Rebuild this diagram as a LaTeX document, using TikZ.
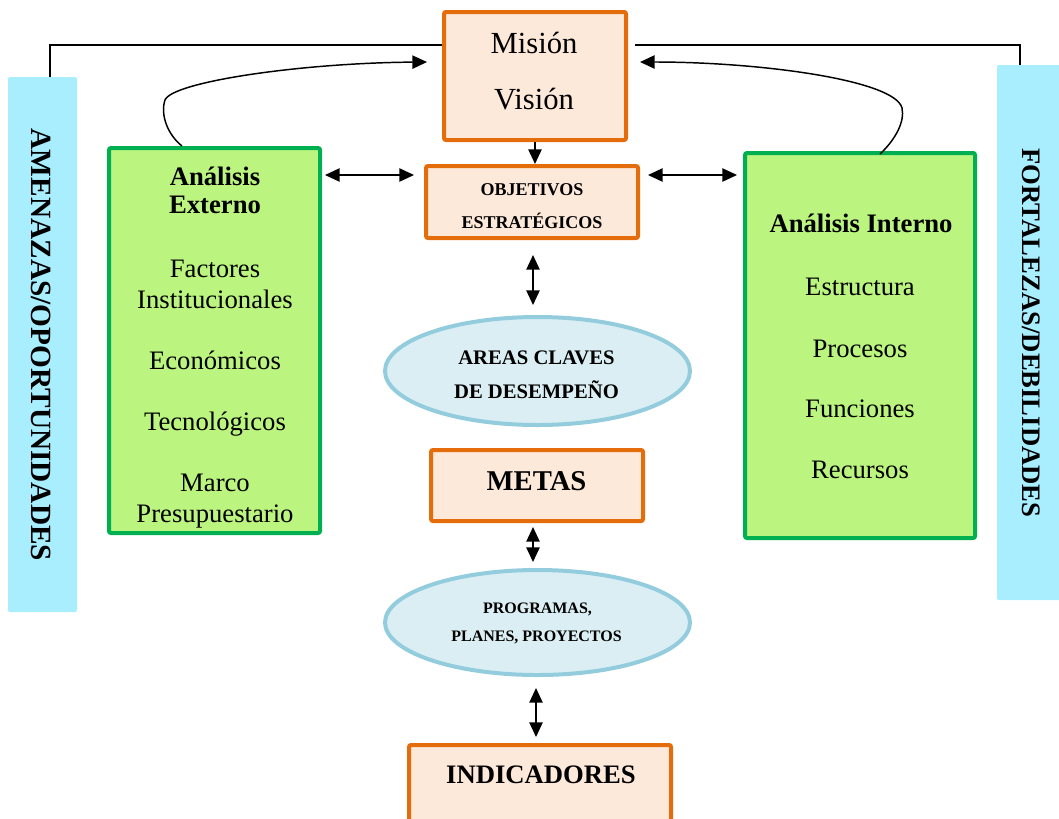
\documentclass[tikz,border=0pt]{standalone}
\usepackage{fontspec}
\setmainfont{Liberation Serif}
\usetikzlibrary{arrows.meta,shapes.geometric,calc}
\definecolor{orb}{HTML}{E46C0A}
\definecolor{orf}{HTML}{FDE9D9}
\definecolor{grb}{HTML}{00B050}
\definecolor{grf}{HTML}{BBF57F}
\definecolor{cyf}{HTML}{A9EEFF}
\definecolor{blb}{HTML}{93CDDD}
\definecolor{blf}{HTML}{DAEEF3}
\newcommand{\fsz}[1]{\fontsize{#1}{#1}\selectfont}
\begin{document}
\begin{tikzpicture}[x=0.75pt,y=-0.75pt,
  obox/.style={draw=orb, fill=orf, line width=3pt, rounded corners=1.5pt, inner sep=0pt},
  gbox/.style={draw=grb, fill=grf, line width=3pt, rounded corners=1.5pt, inner sep=0pt},
  sidebar/.style={fill=cyf, rounded corners=1.5pt, inner sep=0pt},
  ell/.style={ellipse, draw=blb, fill=blf, line width=3pt, inner sep=0pt},
  lbl/.style={anchor=base, inner sep=0pt, align=center},
  conn/.style={line width=1.1pt},
  arr/.style={conn, -{Triangle[length=11pt,width=10pt]}},
  darr/.style={conn, {Triangle[length=11pt,width=10pt]}-{Triangle[length=11pt,width=10pt]}}
]
\useasboundingbox (0,0) rectangle (1059,818);
\clip (0,0) rectangle (1059,818);

% boxes
\node[sidebar, minimum width=51.75pt, minimum height=401.25pt] (lbar) at (42.5,344.5) {};
\node[sidebar, minimum width=51pt, minimum height=401.25pt] (rbar) at (1031,332.5) {};
\node[obox, minimum width=136.5pt, minimum height=96pt] (mision) at (535,76) {};
\node[obox, minimum width=159pt, minimum height=54pt] (obj) at (532,202) {};
\node[obox, minimum width=159pt, minimum height=53.25pt] (metas) at (537,485.5) {};
\node[obox, minimum width=196.5pt, minimum height=69.75pt] (ind) at (540,791.5) {};
\node[gbox, minimum width=158.25pt, minimum height=288.75pt] (lg) at (214.5,340.5) {};
\node[gbox, minimum width=172.5pt, minimum height=288.75pt] (rg) at (860,345.5) {};
\node[ell, minimum width=228.75pt, minimum height=81pt] (areas) at (537.5,371) {};
\node[ell, minimum width=228.75pt, minimum height=78.75pt] (prog) at (537.5,622.5) {};

% side texts
\node[rotate=-90, inner sep=0pt, font=\fsz{22}\bfseries] (ltxt) at (41,345) {AMENAZAS/OPORTUNIDADES};
\node[rotate=-90, inner sep=0pt, font=\fsz{20}\bfseries] (rtxt) at (1031,333) {FORTALEZAS/DEBILIDADES};

% mision texts
\node[lbl, font=\fsz{23}] (t1) at (534,53) {Misión};
\node[lbl, font=\fsz{23}] (t2) at (534,109) {Visión};

% left green texts
\node[lbl, font=\fsz{20}\bfseries] (e1) at (215,185) {Análisis};
\node[lbl, font=\fsz{20}\bfseries] (e2) at (215,213) {Externo};
\node[lbl, font=\fsz{20}] (e3) at (215,277) {Factores};
\node[lbl, font=\fsz{20}] (e4) at (215,308) {Institucionales};
\node[lbl, font=\fsz{20}] (e5) at (215,369) {Económicos};
\node[lbl, font=\fsz{20}] (e6) at (215,430) {Tecnológicos};
\node[lbl, font=\fsz{20}] (e7) at (215,491) {Marco};
\node[lbl, font=\fsz{20}] (e8) at (215,522) {Presupuestario};

% right green texts
\node[lbl, font=\fsz{20}\bfseries] (i1) at (861,232) {Análisis Interno};
\node[lbl, font=\fsz{20}] (i2) at (860,295) {Estructura};
\node[lbl, font=\fsz{20}] (i3) at (860,357) {Procesos};
\node[lbl, font=\fsz{20}] (i4) at (860,417) {Funciones};
\node[lbl, font=\fsz{20}] (i5) at (860,478) {Recursos};

% center texts
\node[lbl, font=\fsz{13.5}\bfseries] (o1) at (532,195) {OBJETIVOS};
\node[lbl, font=\fsz{13.5}\bfseries] (o2) at (532,228) {ESTRATÉGICOS};
\node[lbl, font=\fsz{15.5}\bfseries] (a1) at (536.5,364) {AREAS CLAVES};
\node[lbl, font=\fsz{15.5}\bfseries] (a2) at (536.5,398) {DE DESEMPEÑO};
\node[lbl, font=\fsz{21.5}\bfseries] (m1) at (536.5,490) {METAS};
\node[lbl, font=\fsz{12}\bfseries] (p1) at (537.5,613) {PROGRAMAS,};
\node[lbl, font=\fsz{12}\bfseries] (p2) at (536.5,641) {PLANES, PROYECTOS};
\node[lbl, font=\fsz{20}\bfseries] (n1) at (541,783) {INDICADORES};

% connectors
\coordinate (tl) at (50,45);
\coordinate (tr) at (1020,45);
\coordinate (hl) at (0,175);
\coordinate (vx) at (533,0);
\coordinate (vy) at (536,0);

\draw[conn] (mision.west |- tl) -- (tl) -- (lbar.north -| tl);
\draw[conn] ($(mision.east |- tr)+(7,0)$) -- (tr) -- (rbar.north -| tr);

\draw[arr] ($(lg.north west)+(75,0)$) .. controls (168,135) and (160,115) .. (165,100)
  .. controls (172,82) and (300,63) .. ($(mision.west)+(-15,-14)$);
\draw[arr] ($(rg.north west)+(137,3)$) .. controls (895,140) and (905,122) .. (902,108)
  .. controls (895,80) and (760,62) .. ($(mision.east)+(12,-14)$);

\draw[arr] (mision.south) -- (mision.south |- obj.north);

\draw[darr] ($(lg.east |- hl)+(3,0)$) -- ($(obj.west |- hl)+(-10,0)$);
\draw[darr] ($(obj.east |- hl)+(8,0)$) -- ($(rg.west |- hl)+(-6,0)$);

\draw[darr] ($(obj.south -| vx)+(0,15)$) -- ($(areas.north -| vx)+(0,-10)$);
\draw[darr] ($(metas.south -| vx)+(0,4)$) -- ($(prog.north -| vx)+(0,-6)$);
\draw[darr] ($(prog.south -| vy)+(0,11)$) -- ($(ind.north -| vy)+(0,-6)$);
\end{tikzpicture}
\end{document}
